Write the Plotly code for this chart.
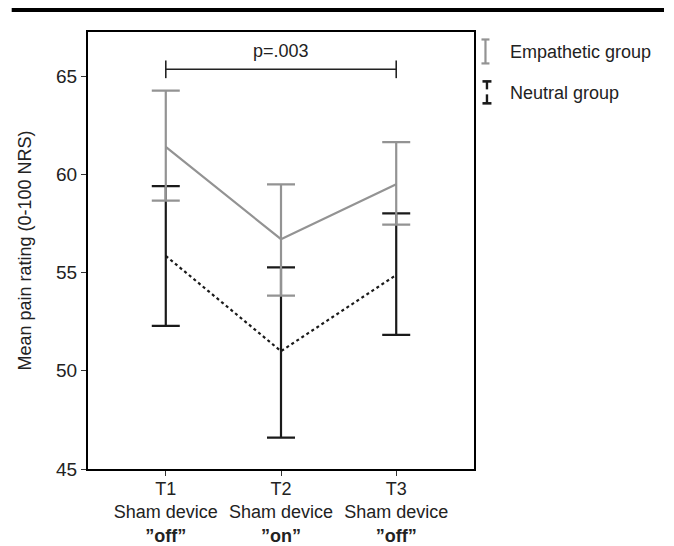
import plotly.graph_objects as go

# Data
timepoints = [1, 2, 3]
tick_labels = ["T1<br>Sham device<br><b>”off”</b>",
               "T2<br>Sham device<br><b>”on”</b>",
               "T3<br>Sham device<br><b>”off”</b>"]
empathetic_mean = [61.4, 56.7, 59.5]
empathetic_upper = [64.27, 59.49, 61.64]
empathetic_lower = [58.66, 53.83, 57.44]
neutral_mean = [55.85, 51.0, 54.88]
neutral_upper = [59.4, 55.27, 58.02]
neutral_lower = [52.29, 46.6, 51.83]
sig_text = "p=.003"
sig_y = 65.35

GRAY = "#939393"
BLACK = "#1a1a1a"
FONT = "Liberation Sans, Arial, sans-serif"

# page body has an 8px default margin; compensate so the plot area sits where the reference has it
OFF = 8
L, T = 87.5, 31.5          # plot-area left/top in screen pixels
W, H = 387.0, 438.0        # plot-area size
FIG_W, FIG_H = 674, 546

fig = go.Figure()

fig.add_trace(go.Scatter(
    x=timepoints, y=neutral_mean, mode="lines",
    line=dict(color=BLACK, width=2.2, dash="dot"),
    error_y=dict(type="data", symmetric=False,
                 array=[u - m for u, m in zip(neutral_upper, neutral_mean)],
                 arrayminus=[m - l for l, m in zip(neutral_lower, neutral_mean)],
                 color=BLACK, thickness=2.2, width=14),
    showlegend=False, name="Neutral group"))

fig.add_trace(go.Scatter(
    x=timepoints, y=empathetic_mean, mode="lines",
    line=dict(color=GRAY, width=2.2),
    error_y=dict(type="data", symmetric=False,
                 array=[u - m for u, m in zip(empathetic_upper, empathetic_mean)],
                 arrayminus=[m - l for l, m in zip(empathetic_lower, empathetic_mean)],
                 color=GRAY, thickness=2.2, width=14),
    showlegend=False, name="Empathetic group"))

shapes = []
# significance bracket
shapes.append(dict(type="line", xref="x", yref="y", x0=1, x1=3, y0=sig_y, y1=sig_y,
                   line=dict(color="#222", width=1.6)))
for xv in (1, 3):
    shapes.append(dict(type="line", xref="x", yref="y", x0=xv, x1=xv,
                       y0=sig_y - 0.45, y1=sig_y + 0.45,
                       line=dict(color="#222", width=1.6)))

# screen pixel -> paper helpers
def px(xp):
    return (xp - L) / W
def py(yp):
    return (T + H - yp) / H

# top rule
shapes.append(dict(type="line", xref="paper", yref="paper",
                   x0=px(11), x1=px(665), y0=py(9.5), y1=py(9.5),
                   line=dict(color="black", width=4)))

# gray I
shapes.append(dict(type="line", xref="paper", yref="paper", x0=px(486), x1=px(486), y0=py(39), y1=py(63),
                   line=dict(color=GRAY, width=2.2)))
for yy in (39, 63):
    shapes.append(dict(type="line", xref="paper", yref="paper", x0=px(482), x1=px(490), y0=py(yy), y1=py(yy),
                       line=dict(color=GRAY, width=2.2)))
# black I (dotted middle)
shapes.append(dict(type="line", xref="paper", yref="paper", x0=px(487.5), x1=px(487.5), y0=py(81), y1=py(89),
                   line=dict(color=BLACK, width=2.4)))
shapes.append(dict(type="line", xref="paper", yref="paper", x0=px(487.5), x1=px(487.5), y0=py(94), y1=py(103),
                   line=dict(color=BLACK, width=2.4)))
for yy in (81, 103):
    shapes.append(dict(type="line", xref="paper", yref="paper", x0=px(483), x1=px(492), y0=py(yy), y1=py(yy),
                       line=dict(color=BLACK, width=2.6)))

annotations = [
    dict(x=2, y=sig_y, xref="x", yref="y", text=sig_text, showarrow=False,
         yanchor="bottom", yshift=6, font=dict(size=18, color="#222", family=FONT)),
    dict(x=px(509), y=py(52), xref="paper", yref="paper", text="Empathetic group", showarrow=False,
         xanchor="left", yanchor="middle", font=dict(size=18, color="#222", family=FONT)),
    dict(x=px(509), y=py(93), xref="paper", yref="paper", text="Neutral group", showarrow=False,
         xanchor="left", yanchor="middle", font=dict(size=18, color="#222", family=FONT)),
]

ml = L - OFF
mt = T - OFF
mr = FIG_W - ml - W
mb = FIG_H - mt - H

fig.update_layout(
    width=FIG_W, height=FIG_H,
    margin=dict(l=ml, r=mr, t=mt, b=mb, autoexpand=False),
    paper_bgcolor="white", plot_bgcolor="white",
    font=dict(family=FONT, size=18, color="#222"),
    shapes=shapes, annotations=annotations,
    showlegend=False,
)
fig.update_xaxes(range=[0.325, 3.675], tickvals=timepoints, ticktext=tick_labels,
                 showgrid=False, zeroline=False, showline=True, mirror=True,
                 linecolor="black", linewidth=2.2, ticks="outside", ticklen=5,
                 tickcolor="#333", tickwidth=1.2, tickfont=dict(size=18), automargin=False,
                 ticklabelstandoff=-3)
fig.update_yaxes(range=[45, 67.25], tickvals=[45, 50, 55, 60, 65],
                 showgrid=False, zeroline=False, showline=True, mirror=True,
                 linecolor="black", linewidth=2.2, ticks="outside", ticklen=5,
                 tickcolor="#333", tickwidth=1.2, tickfont=dict(size=19), automargin=False,
                 title=dict(text="Mean pain rating (0-100 NRS)", font=dict(size=18), standoff=20))

fig.write_html("out.html")
